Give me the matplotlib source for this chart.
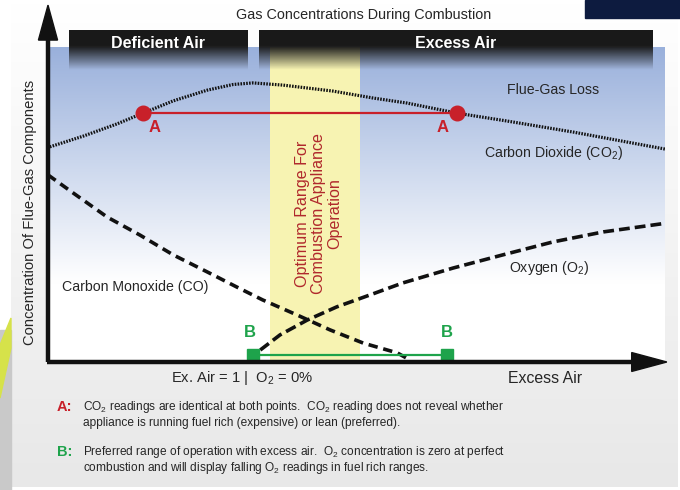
import numpy as np
import matplotlib.pyplot as plt
from matplotlib.patches import Polygon, Rectangle

# Curve values (x: excess air scale 0-100, y: concentration 0-100)
co2_x = [0.3, 5.7, 11.2, 15.4, 20.3, 25.8, 30.0, 33.2, 38.1, 46.2, 52.7, 58.2, 66.3, 74.4, 85.1, 100.0]
co2_y = [68.3, 71.7, 75.6, 79.0, 82.9, 86.3, 88.1, 88.6, 87.9, 86.0, 83.8, 82.2, 79.0, 76.5, 73.0, 67.6]

co_x = [0.0, 4.05, 9.6, 14.9, 20.3, 25.8, 30.6, 34.8, 40.4, 45.7, 51.1, 56.6, 58.7]
co_y = [59.4, 53.7, 46.0, 40.3, 34.0, 28.6, 23.8, 19.7, 14.9, 10.2, 6.0, 2.9, 0.6]

o2_x = [34.4, 37.6, 42.0, 46.8, 52.2, 57.5, 65.6, 73.7, 81.8, 90.0, 100.3]
o2_y = [3.8, 8.6, 13.3, 17.5, 21.3, 25.1, 29.8, 34.0, 38.1, 41.3, 44.1]

# A: equal CO2 readings, B: preferred range of operation
a_x = [15.4, 66.3]
a_y = [79.0, 79.0]
b_x = [33.2, 64.7]
b_y = [2.2, 2.2]

optimum_range = (36.0, 50.6)
regions = [("Deficient Air", 3.4, 32.4), ("Excess Air", 34.2, 97.9)]

W, H = 680, 490
plt.rcParams['font.family'] = ['Liberation Sans', 'DejaVu Sans']

RED = '#c8202a'
GREEN = '#1ea34b'
TXT = '#262626'


def px(x, y):
    return x / W, 1 - y / H


fig = plt.figure(figsize=(W / 100, H / 100), dpi=100)

# background panel
bg = fig.add_axes([0, 0, 1, 1])
grad = np.linspace(1.0, 0.91, 100)[:, None] * np.ones((1, 2))
bg.imshow(np.dstack([grad] * 3), extent=[11, 678, 487, 0], aspect='auto', zorder=0)
bg.add_patch(Rectangle((0, 330), 11, 160, color='#c9c9c9', zorder=0))
bg.add_patch(Polygon([(0, 345), (11, 318), (11, 348), (0, 398)], color='#d6e24a', zorder=1))
bg.add_patch(Rectangle((585, 0), 95, 18, color='#0d1b3f', zorder=1))
bg.set_xlim(0, W)
bg.set_ylim(H, 0)
bg.axis('off')

# chart axes: 0..100 in both directions
ax = fig.add_axes([48 / W, (H - 362) / H, 617 / W, 315 / H])
ax.patch.set_alpha(0)
ax.axis('off')

blue = np.array([0.60, 0.69, 0.86])
t = np.clip(np.linspace(0, 1, 200) / 0.75, 0, 1)[:, None]
colrows = blue * (1 - t) + np.array([1.0, 1.0, 1.0]) * t
ax.imshow(colrows[:, None, :], extent=[0, 100, 0, 100], aspect='auto', zorder=0)
ax.axvspan(*optimum_range, ymin=0, ymax=1, color='#f7f3b2', zorder=1, lw=0)

for name, x0, x1 in regions:
    n = 60
    alpha = np.clip((1 - np.linspace(0, 1, n)) / 0.6, 0, 1)
    img = np.zeros((n, 2, 4))
    img[..., :3] = 0.10
    img[..., 3] = alpha[:, None]
    im = ax.imshow(img, extent=[x0, x1, 92.7, 105.1], aspect='auto', zorder=2)
    im.set_clip_on(False)
    ax.text((x0 + x1) / 2, 101.0, name, color='white', fontsize=11.5, fontweight='bold',
            ha='center', va='center', zorder=3, clip_on=False)

ax.plot(co2_x, co2_y, color='#111111', lw=2.3, ls=(0, (0.5, 0.4)), zorder=4)
ax.plot(co_x, co_y, color='#111111', lw=2.6, ls=(0, (2.6, 1.6)), zorder=4, clip_on=False)
ax.plot(o2_x, o2_y, color='#111111', lw=2.6, ls=(0, (3.0, 1.4)), zorder=4)

ax.plot(a_x, a_y, color=RED, lw=1.6, marker='o', ms=10.5, zorder=5)
ax.plot(b_x, b_y, color=GREEN, lw=1.6, marker='s', ms=9, zorder=5, clip_on=False)

# axes arrows
ax.plot([0, 0], [0, 102.5], color='#111111', lw=3.2, solid_capstyle='butt', clip_on=False, zorder=6)
ax.plot([-0.2, 95], [0, 0], color='#111111', lw=3.2, solid_capstyle='butt', clip_on=False, zorder=6)
ax.add_patch(Polygon([(-1.55, 102.2), (1.55, 102.2), (0, 113.3)], closed=True,
                     color='#111111', clip_on=False, zorder=6))
ax.add_patch(Polygon([(94.6, 3.0), (94.6, -3.0), (100.3, 0)], closed=True,
                     color='#111111', clip_on=False, zorder=6))
ax.set_xlim(0, 100)
ax.set_ylim(0, 100)

# labels
sub2 = r'$\mathregular{_2}$'
fig.text(*px(364, 15), 'Gas Concentrations During Combustion', fontsize=10.4, color=TXT,
         ha='center', va='center')
fig.text(*px(30, 212), 'Concentration Of Flue-Gas Components', fontsize=10.6, color=TXT,
         ha='center', va='center', rotation=90)
fig.text(*px(553, 90), 'Flue-Gas Loss', fontsize=10.2, color=TXT, ha='center', va='center')
fig.text(*px(554, 153), 'Carbon Dioxide (CO' + sub2 + ')', fontsize=10.2, color=TXT,
         ha='center', va='center')
fig.text(*px(62, 287), 'Carbon Monoxide (CO)', fontsize=10.2, color=TXT, ha='left', va='center')
fig.text(*px(549, 268), 'Oxygen (O' + sub2 + ')', fontsize=10.2, color=TXT, ha='center', va='center')
for x in (155, 443):
    fig.text(*px(x, 128), 'A', fontsize=12, fontweight='bold', color=RED, ha='center', va='center')
for x in (250, 447):
    fig.text(*px(x, 332), 'B', fontsize=12, fontweight='bold', color=GREEN, ha='center', va='center')
fig.text(*px(319, 214), 'Optimum Range For\nCombustion Appliance\nOperation', fontsize=11.6,
         color='#b0282c', ha='center', va='center', rotation=90, multialignment='center',
         linespacing=1.1)
fig.text(*px(242, 378), 'Ex. Air = 1 |  O' + sub2 + ' = 0%', fontsize=10.6, color=TXT,
         ha='center', va='center')
fig.text(*px(545, 378), 'Excess Air', fontsize=11.4, color=TXT, ha='center', va='center')

notes = [
    ('A:', RED, ['CO' + sub2 + ' readings are identical at both points.  CO' + sub2
                 + ' reading does not reveal whether',
                 'appliance is running fuel rich (expensive) or lean (preferred).'], 407),
    ('B:', GREEN, ['Preferred range of operation with excess air.  O' + sub2
                   + ' concentration is zero at perfect',
                   'combustion and will display falling O' + sub2 + ' readings in fuel rich ranges.'], 452),
]
for tag, col, lines, y in notes:
    fig.text(*px(57, y), tag, fontsize=10.5, fontweight='bold', color=col, ha='left', va='center')
    for i, line in enumerate(lines):
        fig.text(*px(83, y + 16 * i), line, fontsize=8.6, color=TXT, ha='left', va='center')

fig.savefig('out.png', dpi=100)
